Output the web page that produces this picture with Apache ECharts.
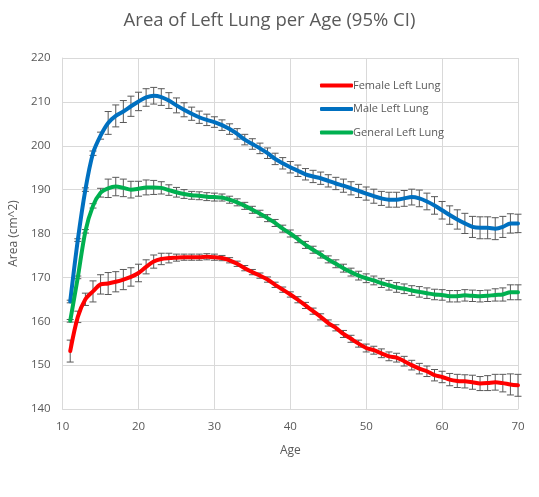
<!DOCTYPE html>
<html>
<head>
<meta charset="utf-8">
<script src="https://cdn.jsdelivr.net/npm/echarts@6/dist/echarts.min.js"></script>
<style>
html,body{margin:0;padding:0;background:#fff;}
#main{width:539px;height:497px;}
</style>
</head>
<body>
<div id="main"></div>
<script>
var ages = [];
for (var a = 11; a <= 70; a++) ages.push(a);

var femaleVals = [153.2,161.0,165.0,166.8,168.4,168.6,169.0,169.5,170.1,171.0,
  172.4,173.6,174.2,174.4,174.5,174.6,174.6,174.6,174.7,174.6,
  174.4,173.9,173.1,172.1,171.2,170.4,169.5,168.3,167.2,166.1,
  164.9,163.6,162.3,161.0,159.6,158.5,157.1,156.0,154.9,153.9,
  153.4,152.7,152.0,151.7,150.9,150.0,149.2,148.6,147.7,147.3,
  146.7,146.4,146.3,146.1,145.8,145.9,146.1,145.9,145.6,145.4];
var femaleCI = [2.5,1.3,1.4,2.4,2.2,2.5,2.3,2.3,2.1,2.0,
  1.6,1.5,1.3,1.1,0.8,0.7,0.7,0.7,0.7,0.7,
  0.6,0.6,0.6,0.6,0.6,0.6,0.6,0.6,0.6,0.6,
  0.7,0.7,0.7,0.7,0.7,0.7,0.8,0.8,0.8,0.9,
  0.9,1.0,1.0,1.0,1.1,1.1,1.2,1.2,1.3,1.3,
  1.4,1.5,1.5,1.6,1.6,1.7,1.8,2.0,2.4,2.5];

var maleVals = [164.5,178.5,190.0,198.3,202.3,205.2,206.8,207.8,209.0,210.1,
  211.0,211.4,211.1,210.3,209.2,208.2,207.3,206.5,205.9,205.4,
  204.7,203.8,202.7,201.4,200.4,199.4,198.3,197.0,196.0,195.1,
  194.3,193.5,193.0,192.6,192.0,191.4,190.9,190.3,189.7,189.1,
  188.5,188.0,187.7,187.7,188.0,188.3,188.0,187.3,186.4,185.3,
  184.2,183.2,182.3,181.5,181.3,181.3,181.1,181.5,182.3,182.3];
var maleCI = [0.3,0.3,0.4,0.5,0.8,2.6,2.5,2.5,2.3,2.1,
  2.0,1.9,1.9,1.8,1.7,1.6,1.5,1.4,1.3,1.2,
  1.2,1.2,1.2,1.2,1.2,1.2,1.2,1.3,1.3,1.3,
  1.3,1.3,1.4,1.4,1.4,1.4,1.5,1.5,1.5,1.5,
  1.6,1.6,1.7,1.7,1.8,1.8,1.9,1.9,2.0,2.0,
  2.1,2.2,2.3,2.4,2.5,2.5,2.5,2.4,2.2,2.1];

var generalVals = [160.1,170.0,180.5,186.3,189.3,190.3,190.7,190.4,190.0,190.2,
  190.5,190.5,190.4,189.9,189.4,189.0,188.7,188.6,188.4,188.3,
  188.2,187.7,187.1,186.3,185.4,184.5,183.5,182.4,181.1,180.0,
  178.7,177.4,176.3,175.2,174.1,173.1,172.1,171.2,170.4,169.8,
  169.3,168.7,168.2,167.7,167.4,167.0,166.7,166.4,166.1,166.0,
  165.7,165.7,165.9,165.8,165.7,165.8,166.0,166.1,166.6,166.6];
var generalCI = [0.3,0.3,0.4,0.5,1.0,2.1,2.1,2.0,1.9,1.7,
  1.7,1.6,1.4,1.2,1.1,1.0,0.9,0.9,0.9,0.9,
  0.8,0.8,0.8,0.8,0.8,0.8,0.8,0.8,0.8,0.8,
  0.8,0.8,0.8,0.8,0.8,0.9,0.9,0.9,1.0,1.0,
  1.0,1.0,1.1,1.1,1.1,1.1,1.2,1.2,1.2,1.2,
  1.3,1.3,1.3,1.3,1.3,1.3,1.4,1.5,1.7,1.7];

var xTicks = [10,20,30,40,50,60,70];
var yTicks = [140,150,160,170,180,190,200,210,220];

var seriesDefs = [
  {name:'Female Left Lung', vals:femaleVals, ci:femaleCI, color:'#FF0000'},
  {name:'Male Left Lung', vals:maleVals, ci:maleCI, color:'#0070C0'},
  {name:'General Left Lung', vals:generalVals, ci:generalCI, color:'#00B050'}
];

var textColor = '#595959';
var font = 'Open Sans';

function errRender(params, api) {
  var x = api.value(0), lo = api.value(1), hi = api.value(2);
  var pHi = api.coord([x, hi]);
  var pLo = api.coord([x, lo]);
  var cw = 3.5;
  var st = {stroke:'#595959', lineWidth:1};
  return {
    type:'group',
    children:[
      {type:'line', shape:{x1:pHi[0], y1:pHi[1], x2:pLo[0], y2:pLo[1]}, style:st},
      {type:'line', shape:{x1:pHi[0]-cw, y1:pHi[1], x2:pHi[0]+cw, y2:pHi[1]}, style:st},
      {type:'line', shape:{x1:pLo[0]-cw, y1:pLo[1], x2:pLo[0]+cw, y2:pLo[1]}, style:st}
    ]
  };
}

var series = [];
seriesDefs.forEach(function(s){
  series.push({
    type:'custom',
    name:s.name + ' CI',
    renderItem: errRender,
    data: ages.map(function(a,i){ return [a, s.vals[i]-s.ci[i], s.vals[i]+s.ci[i]]; }),
    z: 2,
    silent: true,
    tooltip:{show:false}
  });
});
seriesDefs.forEach(function(s){
  series.push({
    type:'line',
    name:s.name,
    data: ages.map(function(a,i){ return [a, s.vals[i]]; }),
    smooth: 0.3,
    showSymbol:false,
    symbol:'none',
    lineStyle:{width:4, color:s.color, cap:'round'},
    itemStyle:{color:s.color},
    z: 3
  });
});

var chart = echarts.init(document.getElementById('main'), null, {renderer:'canvas'});
chart.setOption({
  animation:false,
  backgroundColor:'#fff',
  title:{
    text:'Area of Left Lung per Age (95% CI)',
    left:'center', top:6,
    textStyle:{fontFamily:font, fontSize:18.5, fontWeight:'normal', color:textColor}
  },
  legend:{
    data:seriesDefs.map(function(s){return s.name;}),
    orient:'vertical',
    left:315, top:75,
    icon:'roundRect',
    itemWidth:33, itemHeight:4,
    itemGap:12.5,
    textStyle:{fontFamily:font, fontSize:11, color:textColor, padding:[0,0,0,-5]}
  },
  grid:{left:62, right:21, top:58, bottom:88, containLabel:false},
  xAxis:{
    type:'value', min:10, max:70, interval:10,
    name:'Age', nameLocation:'middle', nameGap:36,
    nameTextStyle:{fontFamily:font, fontSize:12, color:textColor},
    axisLine:{show:true, lineStyle:{color:'#D9D9D9', width:1}},
    axisTick:{show:false},
    axisLabel:{fontFamily:font, fontSize:11.5, color:textColor, margin:12},
    splitLine:{show:true, lineStyle:{color:'#D9D9D9', width:1}}
  },
  yAxis:{
    type:'value', min:140, max:220, interval:10,
    name:'Area (cm^2)', nameLocation:'middle', nameGap:40,
    nameTextStyle:{fontFamily:font, fontSize:12, color:textColor},
    axisLine:{show:true, lineStyle:{color:'#D9D9D9', width:1}},
    axisTick:{show:false},
    axisLabel:{fontFamily:font, fontSize:11.5, color:textColor, margin:12},
    splitLine:{show:true, lineStyle:{color:'#D9D9D9', width:1}}
  },
  series:series
});
</script>
</body>
</html>
